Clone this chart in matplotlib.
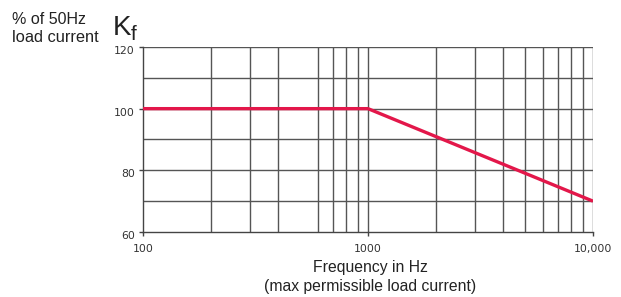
import numpy as np
import matplotlib.pyplot as plt
import matplotlib.transforms as mtransforms

# --- data ---
freq = [100, 1000, 10000]          # Hz
kf = [100, 100, 70]                # % of 50Hz load current
x_ticks = [100, 1000, 10000]
x_tick_labels = ['100', '1000', '10,000']
y_ticks = [60, 80, 100, 120]
y_grid = [70, 80, 90, 100, 110, 120]
x_grid = [200, 300, 400, 600, 700, 800, 900, 1000,
          2000, 3000, 4000, 5000, 6000, 7000, 8000, 9000, 10000]

plt.rcParams['font.family'] = ['Liberation Sans', 'DejaVu Sans']

fig = plt.figure(figsize=(6.21, 2.97), dpi=100)
ax = fig.add_axes([0.2303, 0.2189, 0.7246, 0.6229])

ax.set_xscale('log')
ax.set_xlim(100, 10000)
ax.set_ylim(60, 120)

# grid lines (drawn by hand so the odd missing 500 line matches)
for gx in x_grid:
    ax.axvline(gx, color='#555555', lw=1.0, zorder=1)
for gy in y_grid:
    ax.axhline(gy, color='#555555', lw=1.0, zorder=1)

ax.plot(freq, kf, color='#e3174a', lw=2.4, zorder=3, solid_capstyle='butt')

for s in ['top', 'right']:
    ax.spines[s].set_visible(False)
for s in ['left', 'bottom']:
    ax.spines[s].set_color('#444444')
    ax.spines[s].set_linewidth(1.0)

ax.set_xticks(x_ticks)
ax.set_xticklabels(x_tick_labels)
ax.xaxis.set_minor_locator(plt.NullLocator())
ax.set_yticks(y_ticks)
ax.tick_params(axis='both', length=3, width=1, color='#444444',
               labelsize=7.8, labelcolor='#333333', labelfontfamily='DejaVu Sans')
ax.tick_params(axis='x', pad=6)
ax.tick_params(axis='y', pad=3)

# y labels sit a little below their lines in the original
shift = mtransforms.ScaledTranslation(0, -3 / 100, fig.dpi_scale_trans)
for lab in ax.get_yticklabels():
    lab.set_transform(lab.get_transform() + shift)

fig.text(0.596, 0.098, 'Frequency in Hz', ha='center', va='center',
         fontsize=11.3, color='#222222')
fig.text(0.596, 0.034, '(max permissible load current)', ha='center',
         va='center', fontsize=11.3, color='#222222')

fig.text(0.020, 0.936, '% of 50Hz', ha='left', va='center',
         fontsize=11.5, color='#222222')
fig.text(0.020, 0.873, 'load current', ha='left', va='center',
         fontsize=11.8, color='#222222')
fig.text(0.182, 0.882, 'K', ha='left', va='baseline',
         fontsize=20, color='#222222')
fig.text(0.211, 0.866, 'f', ha='left', va='baseline',
         fontsize=15, color='#222222')

fig.savefig('out.png', dpi=100)
